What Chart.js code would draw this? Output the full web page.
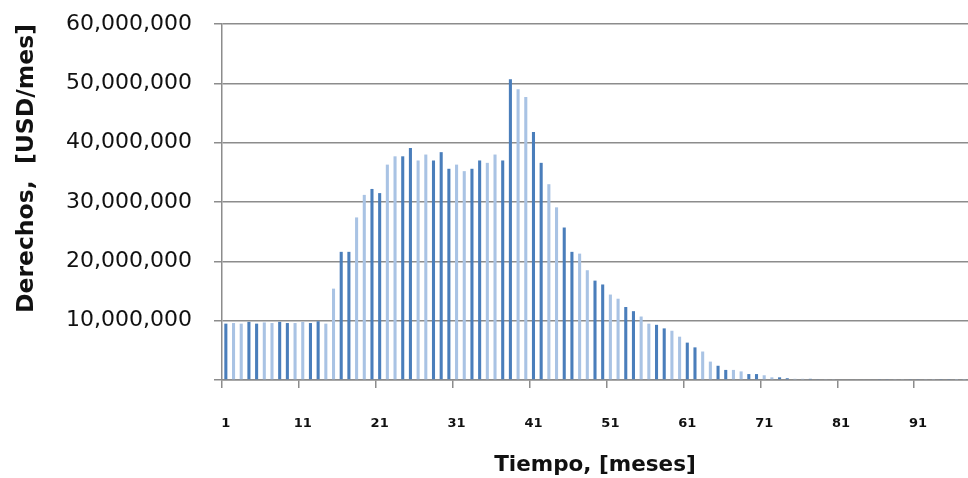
<!DOCTYPE html>
<html>
<head>
<meta charset="utf-8">
<script src="https://cdn.jsdelivr.net/npm/chart.js@4.4.0/dist/chart.umd.min.js"></script>
<style>
    html, body { margin: 0; padding: 0; background: #fff; }
    #wrap { width: 968px; height: 478px; }
</style>
</head>
<body>
<div id="wrap"><canvas id="rightsChart" width="968" height="478"></canvas></div>
<script>
// Derechos mensuales [USD/mes], mes 1 .. 97
const rights = [
    9500000, 9600000, 9500000, 9800000, 9500000, 9700000, 9600000, 9800000, 9600000, 9600000,
    9800000, 9600000, 9900000, 9500000, 15400000, 21600000, 21600000, 27400000, 31200000, 32200000,
    31500000, 36300000, 37700000, 37700000, 39100000, 37000000, 38000000, 37000000, 38400000, 35600000,
    36300000, 35200000, 35600000, 37000000, 36600000, 38000000, 37000000, 50700000, 49000000, 47700000,
    41800000, 36600000, 33000000, 29100000, 25700000, 21600000, 21300000, 18500000, 16750000, 16100000,
    14400000, 13700000, 12300000, 11600000, 10700000, 9500000, 9300000, 8700000, 8300000, 7300000,
    6300000, 5500000, 4800000, 3100000, 2400000, 1700000, 1700000, 1450000, 1000000, 1000000,
    800000, 450000, 450000, 300000, 200000, 200000, 200000, 150000, 150000, 150000,
    120000, 120000, 120000, 120000, 120000, 100000, 100000, 100000, 100000, 100000,
    100000, 100000, 90000, 90000, 90000, 80000, 80000
];
const months = Array.from({ length: rights.length }, (_, i) => i + 1);
const labelledMonths = [1, 11, 21, 31, 41, 51, 61, 71, 81, 91];
const yMax = 60000000;
const yStep = 10000000;

const DARK = '#4a7ebb';
const LIGHT = '#a9c3e4';
const GRID = '#8c8c8c';
const FONT = 'DejaVu Sans';

// the source image shows the single series as alternating dark / light bars
const barColor = ctx => {
    const pos = ((ctx.dataIndex + 1.5) / 4.07) % 1;
    return pos < 0.5 ? DARK : LIGHT;
};

const isLabelled = i => labelledMonths.includes(months[i]);

const ctx = document.getElementById('rightsChart').getContext('2d');
new Chart(ctx, {
    type: 'bar',
    data: {
        labels: months,
        datasets: [{
            label: 'Derechos',
            data: rights,
            backgroundColor: barColor,
            borderWidth: 0,
            categoryPercentage: 1,
            barPercentage: 0.4
        }]
    },
    options: {
        responsive: false,
        animation: false,
        devicePixelRatio: 1,
        layout: { padding: { left: 0, top: 24, right: 0, bottom: 0 } },
        plugins: {
            legend: { display: false },
            tooltip: { enabled: false }
        },
        scales: {
            x: {
                offset: true,
                // fixed height, and no extra side padding from the tick labels
                afterFit: s => { s.height = 98; s.paddingLeft = 0; s.paddingRight = 0; },
                grid: {
                    offset: true,
                    drawOnChartArea: false,
                    drawTicks: true,
                    tickLength: 8,
                    color: c => isLabelled(c.index) ? GRID : 'rgba(0,0,0,0)',
                    lineWidth: 1.5
                },
                border: { display: true, color: GRID, width: 1.5 },
                ticks: {
                    autoSkip: false,
                    maxRotation: 0,
                    padding: 28,
                    color: '#111',
                    font: { family: FONT, size: 13, weight: 'bold' },
                    callback: (value, index) => isLabelled(index) ? String(months[index]) : ''
                },
                title: {
                    display: true,
                    text: 'Tiempo, [meses]',
                    color: '#111',
                    font: { family: FONT, size: 21.5, weight: 'bold' },
                    padding: { top: 0, bottom: 0 }
                }
            },
            y: {
                min: 0,
                max: yMax,
                afterFit: s => { s.width = 222; s.paddingTop = 0; s.paddingBottom = 0; },
                grid: {
                    color: GRID,
                    lineWidth: 1.5,
                    drawTicks: true,
                    tickLength: 8
                },
                border: { display: true, color: GRID, width: 1.5 },
                ticks: {
                    stepSize: yStep,
                    padding: 22,
                    color: '#111',
                    font: { family: FONT, size: 22 },
                    callback: v => v === 0 ? '' : v.toLocaleString('en-US')
                },
                title: {
                    display: true,
                    align: 'end',
                    text: 'Derechos,  [USD/mes]',
                    color: '#111',
                    font: { family: FONT, size: 23.5, weight: 'bold' },
                    padding: { top: 13, bottom: 0 }
                }
            }
        }
    }
});
</script>
</body>
</html>
